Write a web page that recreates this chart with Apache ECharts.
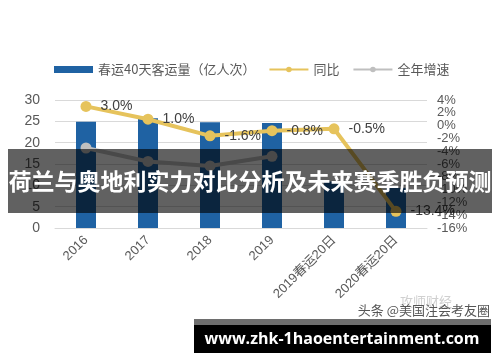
<!DOCTYPE html>
<html>
<head>
<meta charset="utf-8">
<script src="https://cdn.jsdelivr.net/npm/echarts@6/dist/echarts.min.js"></script>
<style>
html,body{margin:0;padding:0;background:#fff;}
#chart{width:500px;height:362px;}
</style>
</head>
<body>
<div id="chart"></div>
<script>
var categories = ['2016', '2017', '2018', '2019', '2019春运20日', '2020春运20日'];
var volume = [24.9, 25.7, 24.8, 24.6, 10.9, 9.4];
var yoy = [3.0, 1.0, -1.6, -0.8, -0.5, -13.4];
var annualGrowth = [-3.5, -5.6, -6.3, -4.8, null, null];
var seriesNames = ['春运40天客运量（亿人次）', '同比', '全年增速'];
var rightTicksA = [4, 0, -4, -8, -12, -16];
var rightTicksB = [2, -2, -6, -10, -14];
var titleText = '荷兰与奥地利实力对比分析及未来赛季胜负预测';
var siteText = 'www.zhk-1haoentertainment.com';
var watermark = '头条 @美国注会考友圈';
var watermark2 = '攻师财经';

var font = '"Noto Sans CJK SC", "Liberation Sans", sans-serif';
function rightAxis(ticks) {
  return {type: 'value', min: -16, max: 4, position: 'right',
    axisLabel: {color: '#595959', fontSize: 13, margin: 10, formatter: '{value}%',
      customValues: ticks, hideOverlap: false, showMinLabel: true, showMaxLabel: true,
      fontFamily: '"Liberation Sans", sans-serif'},
    axisLine: {show: false}, axisTick: {show: false}, splitLine: {show: false}};
}
var chart = echarts.init(document.getElementById('chart'));
chart.setOption({
  animation: false,
  textStyle: {fontFamily: font},
  legend: {
    left: 49, top: 58,
    itemWidth: 39, itemHeight: 7, itemGap: 13,
    textStyle: {fontSize: 13, color: '#595959', fontFamily: font},
    data: [
      {name: seriesNames[0], icon: 'rect'},
      {name: seriesNames[1]},
      {name: seriesNames[2]}
    ]
  },
  grid: {left: 55, right: 73, top: 100, bottom: 134},
  xAxis: {
    type: 'category', data: categories,
    axisLine: {lineStyle: {color: '#d9d9d9', width: 1}},
    axisTick: {show: false},
    axisLabel: {rotate: 45, color: '#595959', fontSize: 13, margin: 10, interval: 0, fontFamily: '"Liberation Sans", "Noto Sans CJK SC", sans-serif'}
  },
  yAxis: [
    {type: 'value', min: 0, max: 30, interval: 5,
     axisLabel: {color: '#595959', fontSize: 14, margin: 15, fontFamily: '"Liberation Sans", sans-serif'},
     axisLine: {show: false}, axisTick: {show: false},
     splitLine: {lineStyle: {color: '#d9d9d9'}}},
    rightAxis(rightTicksA),
    rightAxis(rightTicksB)
  ],
  series: [
    {name: seriesNames[0], type: 'bar', data: volume, barWidth: 20,
     itemStyle: {color: '#1f62a3'}, yAxisIndex: 0},
    {name: seriesNames[2], type: 'line', data: annualGrowth, yAxisIndex: 1,
     symbol: 'circle', symbolSize: 11, connectNulls: false,
     lineStyle: {color: '#bfbfbf', width: 4}, itemStyle: {color: '#bfbfbf'}},
    {name: seriesNames[1], type: 'line', data: yoy, yAxisIndex: 1,
     symbol: 'circle', symbolSize: 11,
     lineStyle: {color: '#e6c35c', width: 4}, itemStyle: {color: '#e6c35c'},
     label: {show: true, position: 'right', distance: 9, color: '#404040', fontSize: 14,
       fontFamily: '"Liberation Sans", sans-serif',
       formatter: function (p) { return p.value.toFixed(1) + '%'; }}}
  ],
  graphic: [
    {type: 'rect', z: 100, shape: {x: 8, y: 149, width: 484, height: 64}, style: {fill: 'rgba(0,0,0,0.62)'}},
    {type: 'text', z: 101, x: 250, y: 181, style: {text: titleText, fill: '#fff', font: 'bold 23px "Noto Sans CJK SC", sans-serif', textAlign: 'center', textVerticalAlign: 'middle'}},
    {type: 'text', z: 99, x: 426, y: 301, style: {text: watermark2, fill: '#d0d0d0', font: '13px "Noto Sans CJK SC", sans-serif', textAlign: 'center', textVerticalAlign: 'middle'}},
    {type: 'text', z: 100, x: 490, y: 310, style: {text: watermark, fill: '#555', font: '13px "Noto Sans CJK SC", sans-serif', textAlign: 'right', textVerticalAlign: 'middle'}},
    {type: 'rect', z: 100, shape: {x: 194, y: 319, width: 297, height: 6}, style: {fill: '#6e6e6e'}},
    {type: 'rect', z: 100, shape: {x: 194, y: 325, width: 297, height: 28}, style: {fill: '#000'}},
    {type: 'text', z: 101, x: 342, y: 339, style: {text: siteText, fill: '#fff', font: 'bold 16px "Open Sans", sans-serif', textAlign: 'center', textVerticalAlign: 'middle'}}
  ]
});
</script>
</body>
</html>
